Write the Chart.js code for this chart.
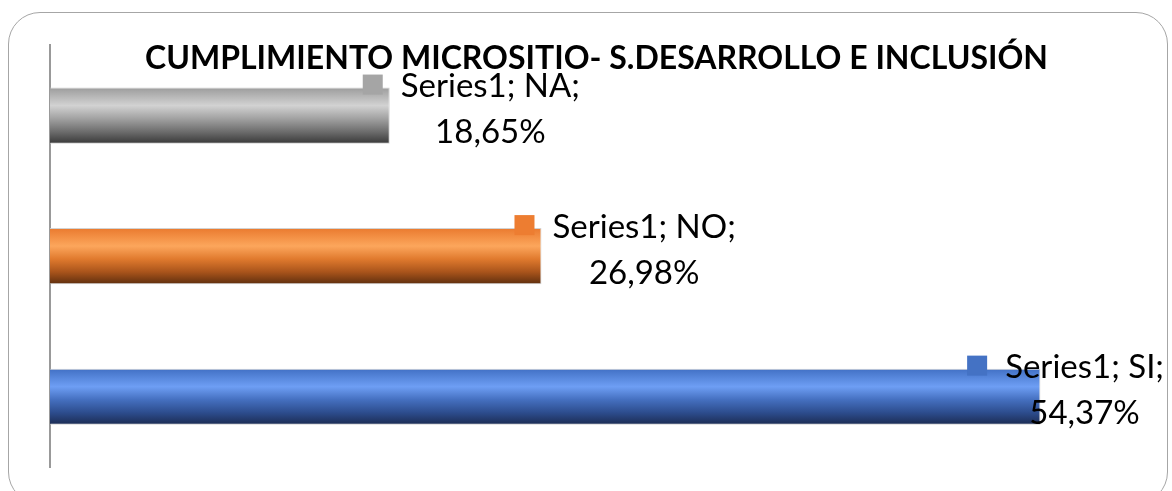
<!DOCTYPE html>
<html>
<head>
<meta charset="utf-8">
<script src="https://cdn.jsdelivr.net/npm/chart.js@4"></script>
<style>
  html, body { margin: 0; padding: 0; background: #fff; }
  body { width: 1172px; height: 491px; position: relative; overflow: hidden; }
  .frame {
    position: absolute; left: 8px; top: 12px; width: 1160px; height: 492px;
    border: 1px solid #a6a6a6; border-radius: 32px; box-sizing: border-box;
  }
  #chart-box { position: absolute; left: 0; top: 0; width: 1172px; height: 491px; }
</style>
</head>
<body>
<div class="frame"></div>
<div id="chart-box"><canvas id="chart"></canvas></div>
<script>
const titleText = 'CUMPLIMIENTO MICROSITIO- S.DESARROLLO E INCLUSIÓN';
const seriesName = 'Series1';
const categories = ['SI', 'NO', 'NA'];
const values = [54.37, 26.98, 18.65];

// colours per category: key colour + vertical gradient stops
const keyColors = ['#4472C4', '#ED7D31', '#A5A5A5'];
const gradStops = [
    ['#4170c4', '#6e9ef4', '#4570c0', '#2d4d8e', '#1b2b52'],
    ['#ea7a2e', '#fca65c', '#e07a2e', '#a9541b', '#5e2e0e'],
    ['#9c9c9c', '#d2d2d2', '#a2a2a2', '#6e6e6e', '#383838']
];
const stopPos = [0, 0.32, 0.55, 0.78, 1];

const barPct = 0.4;

function barGradient(context) {
    const chart = context.chart;
    const area = chart.chartArea;
    const yScale = chart.scales.y;
    if (!area || !yScale) return keyColors[context.dataIndex];
    const center = yScale.getPixelForValue(context.dataIndex);
    const half = (area.height / categories.length) * barPct / 2;
    const g = chart.ctx.createLinearGradient(0, center - half, 0, center + half);
    gradStops[context.dataIndex].forEach((c, k) => g.addColorStop(stopPos[k], c));
    return g;
}

const fmt = v => v.toFixed(2).replace('.', ',') + '%';

// Excel style data labels with legend key
const dataLabels = {
    id: 'dataLabels',
    afterDatasetsDraw(chart) {
        const ctx = chart.ctx;
        const meta = chart.getDatasetMeta(0);
        ctx.save();
        ctx.font = '33px Lato';
        ctx.textBaseline = 'middle';
        ctx.textAlign = 'center';
        meta.data.forEach((bar, i) => {
            const top = bar.y - bar.height / 2;
            const line1 = seriesName + '; ' + categories[i] + ';';
            const line2 = fmt(values[i]);
            const w = Math.max(ctx.measureText(line1).width, ctx.measureText(line2).width);
            let keyLeft = bar.x - 27;
            let textLeft = keyLeft + 38;
            if (textLeft + w > chart.width - 8) {
                textLeft = chart.width - 8 - w;
                keyLeft = textLeft - 38;
            }
            const y1 = top - 1;
            ctx.fillStyle = keyColors[i];
            ctx.fillRect(keyLeft, y1 - 12, 20, 20);
            ctx.fillStyle = '#000';
            ctx.fillText(line1, textLeft + w / 2, y1);
            ctx.fillText(line2, textLeft + w / 2, y1 + 46);
        });
        ctx.restore();
    }
};

const chart = document.querySelector('#chart').getContext('2d');

new Chart(chart, {
    type: 'bar',
    data: {
        labels: categories,
        datasets: [
            {
                label: seriesName,
                data: values,
                backgroundColor: barGradient,
                borderColor: 'rgba(205,205,205,0.9)',
                borderWidth: 1,
                categoryPercentage: 1,
                barPercentage: barPct
            }
        ]
    },
    options: {
        indexAxis: 'y',
        responsive: true,
        maintainAspectRatio: false,
        animation: false,
        layout: {
            padding: { left: 50, right: 29, top: 0, bottom: 24 }
        },
        scales: {
            x: { display: false, min: 0, max: 60 },
            y: {
                reverse: true,
                grid: { display: false, drawTicks: false },
                ticks: { display: false },
                border: { display: true, color: '#999', width: 2 }
            }
        },
        plugins: {
            legend: { display: false },
            tooltip: { enabled: false },
            title: {
                display: true,
                text: titleText,
                color: '#000',
                font: { family: 'Lato', weight: 'bold', size: 32 },
                padding: { top: 39, bottom: -32 }
            }
        }
    },
    plugins: [dataLabels]
});
</script>
</body>
</html>
